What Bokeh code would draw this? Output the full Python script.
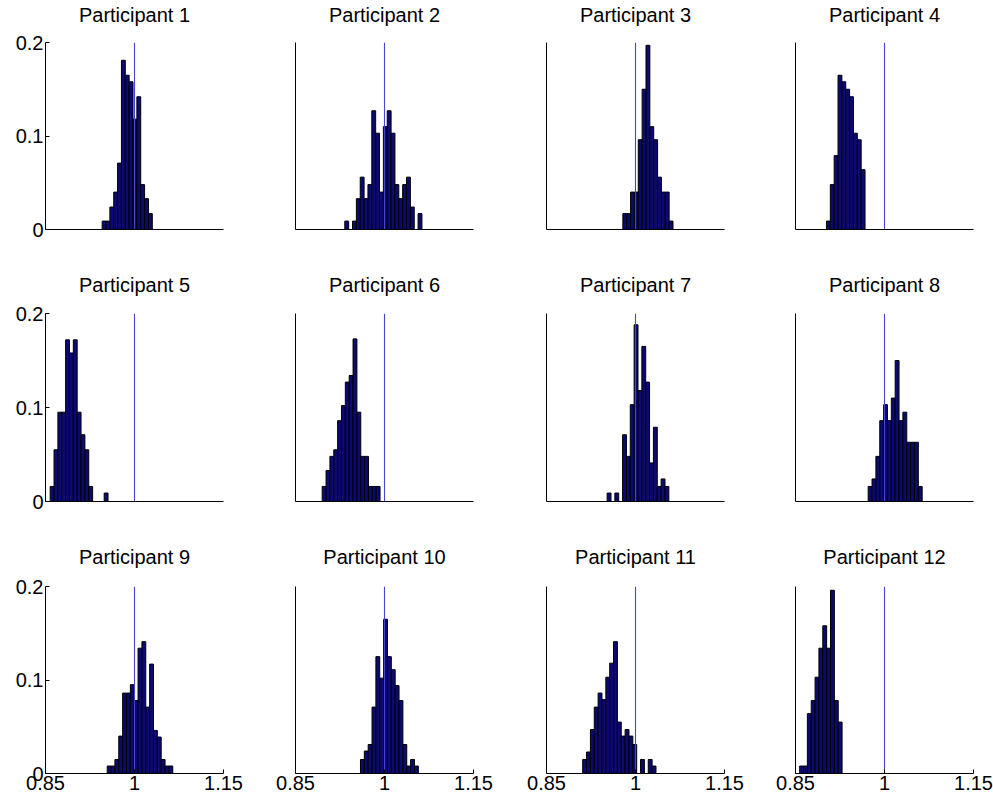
from bokeh.plotting import figure
from bokeh.layouts import column, row
from bokeh.models import Range1d, FixedTicker
from bokeh.embed import file_html
from bokeh.resources import INLINE

# ---------------- data ----------------
BIN_WIDTH = 0.0065
REFERENCE = 1.0
X_RANGE = [0.85, 1.15]
Y_RANGE = [0.0, 0.2]
X_TICKS = [0.85, 1.0, 1.15]
X_TICK_LABELS = ["0.85", "1", "1.15"]
Y_TICKS = [0.0, 0.1, 0.2]
Y_TICK_LABELS = ["0", "0.1", "0.2"]

names = ["Participant %d" % i for i in range(1, 13)]

p1_start = 0.9455
p1_freq = [0.009, 0.009, 0.024, 0.040, 0.071, 0.181, 0.165, 0.158, 0.118, 0.142, 0.048, 0.033, 0.017]
p2_start = 0.9331
p2_freq = [0.009, 0.0, 0.009, 0.033, 0.056, 0.033, 0.048, 0.127, 0.103, 0.040, 0.110, 0.127,
           0.103, 0.048, 0.033, 0.048, 0.056, 0.024, 0.0, 0.017]
p3_start = 0.9787
p3_freq = [0.017, 0.017, 0.040, 0.040, 0.096, 0.150, 0.197, 0.110, 0.096, 0.056, 0.040, 0.040, 0.009]
p4_start = 0.9022
p4_freq = [0.009, 0.048, 0.079, 0.165, 0.158, 0.150, 0.142, 0.103, 0.096, 0.064]
p5_start = 0.8579
p5_freq = [0.016, 0.055, 0.095, 0.095, 0.172, 0.158, 0.172, 0.095, 0.071, 0.055, 0.016,
           0.0, 0.0, 0.0, 0.009]
p6_start = 0.8950
p6_freq = [0.016, 0.033, 0.048, 0.055, 0.086, 0.102, 0.127, 0.134, 0.173, 0.095, 0.048,
           0.048, 0.016, 0.016, 0.016]
p7_start = 0.9522
p7_freq = [0.009, 0.0, 0.009, 0.0, 0.071, 0.048, 0.103, 0.188, 0.118, 0.165, 0.127, 0.041,
           0.079, 0.016, 0.024, 0.016]
p8_start = 0.9725
p8_freq = [0.016, 0.024, 0.048, 0.086, 0.103, 0.086, 0.110, 0.150, 0.086, 0.095, 0.063,
           0.063, 0.063, 0.016]
p9_start = 0.9540
p9_freq = [0.008, 0.008, 0.015, 0.040, 0.086, 0.086, 0.095, 0.078, 0.134, 0.141, 0.071,
           0.117, 0.046, 0.039, 0.015, 0.008, 0.008]
p10_start = 0.9595
p10_freq = [0.015, 0.024, 0.031, 0.071, 0.125, 0.102, 0.165, 0.125, 0.111, 0.094, 0.078,
            0.031, 0.008, 0.015, 0.008]
p11_start = 0.9110
p11_freq = [0.015, 0.023, 0.047, 0.071, 0.086, 0.079, 0.103, 0.118, 0.141, 0.055, 0.040,
            0.047, 0.040, 0.031, 0.0, 0.015, 0.0, 0.015, 0.008]
p12_start = 0.8570
p12_freq = [0.008, 0.008, 0.064, 0.078, 0.103, 0.134, 0.158, 0.134, 0.196, 0.078, 0.055]

starts = [p1_start, p2_start, p3_start, p4_start, p5_start, p6_start,
          p7_start, p8_start, p9_start, p10_start, p11_start, p12_start]
freqs = [p1_freq, p2_freq, p3_freq, p4_freq, p5_freq, p6_freq,
         p7_freq, p8_freq, p9_freq, p10_freq, p11_freq, p12_freq]

# ---------------- layout ----------------
FONT = "Liberation Sans"
COL_LEFT = [45, 45, 46, 45]
COL_RIGHT = [27, 27, 26, 20]
T_STANDOFF = [30, 31, 33]
ROW_TOP = [54, 55, 57]
ROW_FH = [187, 188, 187]
ROW_BOTTOM = [29, 28, 30]

rows = []
for r in range(3):
    figs = []
    for c in range(4):
        k = r * 4 + c
        p = figure(frame_width=178, frame_height=ROW_FH[r],
                   x_range=Range1d(*X_RANGE), y_range=Range1d(*Y_RANGE),
                   output_backend="svg", toolbar_location=None,
                   min_border_left=COL_LEFT[c], min_border_right=COL_RIGHT[c],
                   min_border_top=ROW_TOP[r], min_border_bottom=ROW_BOTTOM[r],
                   title=names[k])
        p.title.text_font = FONT
        p.title.text_font_size = "20px"
        p.title.text_font_style = "normal"
        p.title.align = "center"
        p.title.vertical_align = "top"
        p.title.text_color = "black"
        p.title.standoff = T_STANDOFF[r]
        p.outline_line_color = None
        p.grid.visible = False
        p.background_fill_color = "white"
        p.border_fill_color = "white"

        lefts = [starts[k] + i * BIN_WIDTH for i in range(len(freqs[k]))]
        rights = [starts[k] + (i + 1) * BIN_WIDTH for i in range(len(freqs[k]))]
        p.quad(left=lefts, right=rights, bottom=0, top=freqs[k],
               fill_color="#0a0a70", line_color="black", line_width=1)
        p.line(x=[REFERENCE, REFERENCE], y=Y_RANGE, line_color="#4646cc", line_width=1.1)

        for ax in (p.xaxis[0], p.yaxis[0]):
            ax.axis_line_color = "black"
            ax.axis_line_width = 1
            ax.minor_tick_line_color = None
            ax.major_tick_out = 0
            ax.major_tick_in = 4
            ax.major_label_text_font = FONT
            ax.major_label_text_font_size = "20px"
            ax.major_label_text_color = "black"
            ax.major_label_standoff = 2

        p.xaxis.ticker = FixedTicker(ticks=X_TICKS)
        p.yaxis.ticker = FixedTicker(ticks=Y_TICKS)
        p.xaxis.major_label_overrides = dict(zip(X_TICKS, X_TICK_LABELS))
        p.yaxis.major_label_overrides = dict(zip(Y_TICKS, Y_TICK_LABELS))
        if r < 2:
            p.xaxis.major_label_text_color = None
            p.xaxis.major_tick_line_color = None
        if c > 0:
            p.yaxis.major_label_text_color = None
            p.yaxis.major_tick_line_color = None
        figs.append(p)
    rows.append(row(*figs))

layout = column(*rows, styles={"margin-top": "-12px"})
open("out.html", "w").write(file_html(layout, INLINE))
